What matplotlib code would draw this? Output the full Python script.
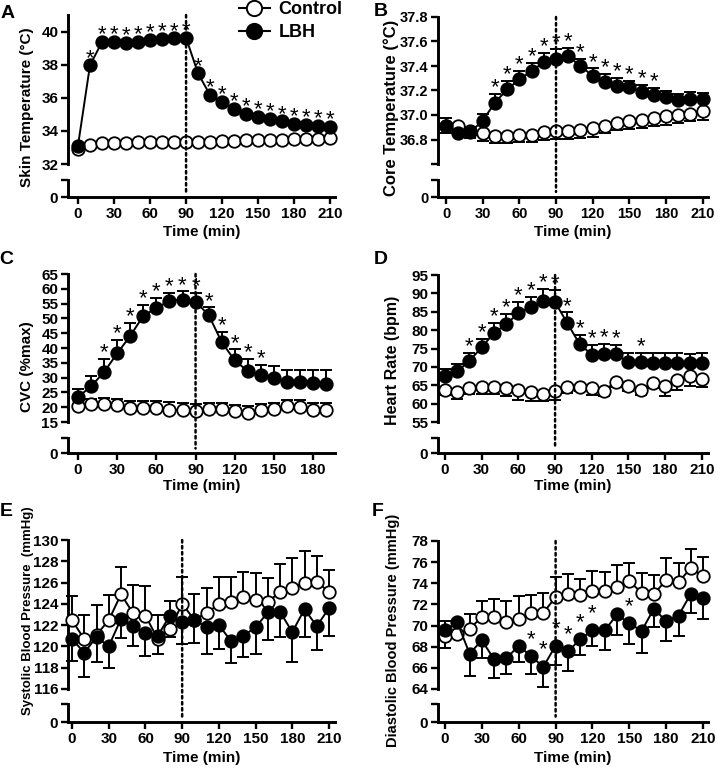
import matplotlib
matplotlib.use('Agg')
import matplotlib.pyplot as plt
from matplotlib.lines import Line2D
from matplotlib.patches import ConnectionPatch

plt.rcParams['font.family'] = ['Liberation Sans', 'DejaVu Sans']
plt.rcParams['font.weight'] = 'bold'

# ---------------- data ----------------
time_210 = list(range(0, 220, 10))
time_190 = list(range(0, 200, 10))

skin_ctrl = [32.9, 33.17, 33.25, 33.28, 33.28, 33.3, 33.3, 33.32, 33.32, 33.32, 33.33,
             33.35, 33.38, 33.4, 33.42, 33.45, 33.45, 33.47, 33.48, 33.5, 33.53, 33.58]
skin_lbh = [33.1, 37.96, 39.37, 39.37, 39.33, 39.37, 39.5, 39.58, 39.6, 39.62, 37.47,
            36.16, 35.76, 35.35, 35.05, 34.85, 34.73, 34.57, 34.44, 34.36, 34.32, 34.26]
skin_stars = list(range(10, 220, 10))

core_ctrl = [36.91, 36.91, 36.87, 36.855, 36.83, 36.83, 36.835, 36.835, 36.86, 36.87, 36.87,
             36.88, 36.895, 36.91, 36.935, 36.95, 36.96, 36.975, 36.99, 37.0, 37.01, 37.03]
core_ctrl_err = [0.06, 0.05, 0.06, 0.068, 0.06, 0.06, 0.057, 0.057, 0.065, 0.068, 0.062,
                 0.068, 0.073, 0.06, 0.06, 0.062, 0.068, 0.068, 0.068, 0.068, 0.062, 0.073]
core_lbh = [36.91, 36.855, 36.86, 36.955, 37.1, 37.21, 37.29, 37.36, 37.43, 37.46, 37.48,
            37.4, 37.32, 37.27, 37.24, 37.23, 37.19, 37.16, 37.145, 37.12, 37.13, 37.13]
core_lbh_err = [0.068, 0.04, 0.04, 0.057, 0.073, 0.068, 0.068, 0.068, 0.073, 0.076, 0.068,
                0.06, 0.06, 0.062, 0.06, 0.05, 0.054, 0.06, 0.05, 0.054, 0.054, 0.05]
core_stars = list(range(40, 180, 10))

cvc_ctrl = [20.3, 21.1, 21.1, 20.7, 19.8, 19.8, 19.8, 19.2, 19.0, 18.6,
            19.4, 19.4, 18.6, 18.1, 19.2, 19.4, 20.3, 20.0, 18.9, 19.2]
cvc_ctrl_err = [2.5, 1.8, 1.9, 2.0, 2.2, 2.2, 2.3, 2.4, 2.4, 2.5,
                2.0, 2.0, 2.2, 2.3, 2.0, 2.0, 2.3, 2.3, 2.5, 2.3]
cvc_lbh = [23.4, 27.1, 31.9, 38.2, 44.1, 50.9, 53.5, 55.95, 56.3, 55.6,
           51.2, 42.0, 35.8, 32.2, 30.8, 29.9, 28.6, 28.5, 28.2, 28.0]
cvc_lbh_err = [2.6, 3.6, 4.5, 4.4, 4.3, 3.6, 3.4, 2.8, 2.8, 2.9,
               2.5, 3.4, 3.7, 4.2, 3.6, 4.0, 3.8, 4.1, 4.3, 4.5]
cvc_stars = list(range(20, 150, 10))

hr_ctrl = [63.8, 63.1, 64.2, 64.4, 64.4, 64.2, 63.8, 63.1, 62.7, 63.3, 64.4,
           64.6, 64.2, 63.5, 66.0, 64.8, 63.8, 65.6, 64.9, 66.5, 67.6, 66.7]
hr_ctrl_err = [1.4, 1.8, 1.6, 1.9, 1.9, 2.2, 2.7, 2.4, 2.1, 2.3, 1.4,
               1.3, 1.8, 1.5, 1.6, 1.4, 1.5, 1.4, 2.7, 2.7, 2.9, 2.3]
hr_lbh = [67.4, 68.8, 71.65, 75.3, 79.2, 81.6, 84.6, 86.4, 87.9, 87.6, 81.9,
          76.25, 73.3, 73.5, 73.5, 71.2, 71.2, 71.1, 71.1, 71.1, 71.1, 71.1]
hr_lbh_err = [2.0, 2.1, 2.1, 2.4, 2.7, 2.7, 3.0, 2.5, 3.2, 3.2, 2.9,
              2.4, 2.7, 2.7, 2.5, 2.5, 2.5, 2.6, 2.6, 2.6, 2.5, 2.6]
hr_stars = list(range(20, 150, 10)) + [160]

sbp_ctrl = [122.46, 120.68, 121.1, 122.46, 124.9, 123.1, 122.9, 120.7, 121.6, 124.0, 122.5,
            123.16, 123.95, 124.2, 124.6, 124.4, 124.2, 125.1, 125.5, 126.0, 126.1, 125.1]
sbp_ctrl_err = [2.3, 2.3, 2.8, 2.4, 2.55, 2.7, 2.8, 2.3, 2.7, 2.5, 2.4,
                2.3, 2.6, 2.3, 2.4, 2.5, 2.2, 2.6, 2.8, 2.95, 2.4, 2.1]
sbp_lbh = [120.7, 119.4, 120.9, 120.0, 122.6, 121.9, 121.25, 121.0, 122.9, 122.3, 122.5,
           121.8, 122.0, 120.5, 121.0, 121.8, 123.2, 123.25, 121.35, 123.5, 121.9, 123.6]
sbp_lbh_err = [2.1, 2.3, 2.4, 2.0, 1.8, 1.9, 2.15, 1.7, 2.0, 2.1, 2.2,
               2.55, 2.2, 2.1, 2.0, 2.5, 2.6, 2.35, 2.85, 2.6, 2.2, 2.6]
sbp_stars = []

dbp_ctrl = [69.0, 69.2, 69.7, 70.8, 70.8, 70.3, 70.65, 71.2, 71.2, 72.7, 73.0,
            72.85, 73.3, 73.3, 73.65, 74.2, 73.1, 73.0, 74.3, 74.1, 75.45, 74.65]
dbp_ctrl_err = [1.45, 0.8, 1.4, 1.5, 1.7, 2.0, 2.1, 1.7, 1.9, 1.9, 1.9,
                1.55, 1.85, 1.75, 2.1, 1.7, 1.9, 1.8, 2.05, 1.8, 1.75, 1.8]
dbp_lbh = [69.6, 70.3, 67.35, 68.6, 66.8, 66.9, 68.1, 67.1, 66.1, 68.1, 67.55,
           68.7, 69.55, 69.55, 71.05, 70.2, 69.5, 71.6, 70.4, 70.95, 73.0, 72.65]
dbp_lbh_err = [1.7, 1.3, 2.15, 1.65, 1.75, 1.5, 1.55, 1.7, 1.9, 1.8, 1.85,
               1.5, 1.45, 1.85, 1.95, 1.9, 2.1, 1.7, 1.85, 1.95, 1.8, 2.0]
dbp_stars = [70, 80, 90, 100, 110, 120, 150]

x_ticks_210 = [0, 30, 60, 90, 120, 150, 180, 210]
x_ticks_180 = [0, 30, 60, 90, 120, 150, 180]

# ---------------- figure ----------------
W, H = 716, 774
fig = plt.figure(figsize=(W / 100, H / 100), dpi=100)

SPW = 2.1
LW = 1.4
MS = 9.0
MEW = 1.3


def box(l, t, r, b):
    return [l / W, 1 - b / H, (r - l) / W, (b - t) / H]


def draw_series(ax, x, y, err, direction, filled):
    if err is not None:
        ends = [yy + e if direction == 'up' else yy - e for yy, e in zip(y, err)]
        ax.vlines(x, y, ends, color='black', lw=LW, zorder=2, clip_on=False)
        ax.plot(x, ends, linestyle='none', marker='_', ms=8.5, mew=LW,
                color='black', zorder=2, clip_on=False)
    ax.plot(x, y, '-', color='black', lw=LW, marker='o', ms=MS,
            mfc='black' if filled else 'white', mec='black', mew=MEW,
            zorder=3, clip_on=False)


def panel(main_px, low_px, xlim, ylim, yticks, ylabels, xticks, x,
          ctrl, ctrl_err, ctrl_dir, lbh, lbh_err, lbh_dir, stars, star_off, tfs=11):
    ax = fig.add_axes(box(*main_px))
    axl = fig.add_axes(box(*low_px))
    for a in (ax, axl):
        a.set_xlim(*xlim)
        a.spines['top'].set_visible(False)
        a.spines['right'].set_visible(False)
        for s in ('left', 'bottom'):
            a.spines[s].set_linewidth(SPW)
        a.tick_params(direction='out', length=5, width=1.7, labelsize=tfs, pad=2)
        a.patch.set_alpha(0)
    ax.spines['bottom'].set_visible(False)
    ax.tick_params(bottom=False, labelbottom=False)
    ax.set_ylim(*ylim)
    ax.set_yticks(yticks)
    ax.set_yticklabels(ylabels)
    axl.set_ylim(0, 1)
    axl.set_yticks([0, 1])
    axl.set_yticklabels(['0', ''])
    axl.set_xticks(xticks)
    axl.set_xticklabels([str(t) for t in xticks])

    draw_series(ax, x, ctrl, ctrl_err, ctrl_dir, False)
    draw_series(ax, x, lbh, lbh_err, lbh_dir, True)

    for s in stars:
        i = x.index(s)
        yv = lbh[i]
        if lbh_err is not None and lbh_dir == 'up':
            yv = lbh[i] + lbh_err[i]
        ax.annotate('*', xy=(s, yv), xytext=(0, star_off), textcoords='offset points',
                    ha='center', va='center', fontsize=16, fontweight='normal',
                    annotation_clip=False, zorder=4)

    con = ConnectionPatch(xyA=(90, ylim[1]), coordsA=ax.transData,
                          xyB=(90, 0.3), coordsB=axl.transData,
                          arrowstyle='-', linestyle=(0, (1, 1.4)), lw=1.8,
                          color='black', shrinkA=0, shrinkB=0, zorder=1)
    fig.add_artist(con)
    return ax, axl


# A
panel((68, 15, 335, 164), (68, 180, 335, 197), (-8.3, 214), (32, 41),
      [32, 34, 36, 38, 40], ['32', '34', '36', '38', '40'], x_ticks_210, time_210,
      skin_ctrl, None, 'down', skin_lbh, None, 'up', skin_stars, 5)
# B
panel((438, 17, 708, 164), (438, 180, 708, 197), (-6.6, 214.4), (36.6, 37.8),
      [36.6, 36.8, 37.0, 37.2, 37.4, 37.6, 37.8],
      ['', '36.8', '37.0', '37.2', '37.4', '37.6', '37.8'], x_ticks_210, time_210,
      core_ctrl, core_ctrl_err, 'down', core_lbh, core_lbh_err, 'up', core_stars, 4.5,
      tfs=10.5)
# C
panel((68, 274, 335, 422), (68, 438, 335, 453), (-7.7, 196.8), (15, 65),
      list(range(15, 70, 5)), [str(v) for v in range(15, 70, 5)], x_ticks_180, time_190,
      cvc_ctrl, cvc_ctrl_err, 'up', cvc_lbh, cvc_lbh_err, 'up', cvc_stars, 4.5)
# D
panel((438, 275, 708, 422), (438, 438, 708, 453), (-5.7, 215), (55, 95),
      list(range(55, 100, 5)), [str(v) for v in range(55, 100, 5)], x_ticks_210, time_210,
      hr_ctrl, hr_ctrl_err, 'down', hr_lbh, hr_lbh_err, 'up', hr_stars, 4.5)
# E
panel((68, 540, 335, 689), (68, 704, 335, 722), (-3.3, 214.9), (116, 130),
      list(range(116, 132, 2)), [str(v) for v in range(116, 132, 2)], x_ticks_210, time_210,
      sbp_ctrl, sbp_ctrl_err, 'up', sbp_lbh, sbp_lbh_err, 'down', sbp_stars, 12)
# F
panel((438, 541, 708, 689), (438, 704, 708, 722), (-5.7, 214), (64, 78),
      list(range(64, 80, 2)), [str(v) for v in range(64, 80, 2)], x_ticks_210, time_210,
      dbp_ctrl, dbp_ctrl_err, 'up', dbp_lbh, dbp_lbh_err, 'down', dbp_stars, 12)

# y labels
ylabels = [
    ('Skin Temperature (\u00b0C)', 27, 107, 11),
    ('Core Temperature (\u00b0C)', 391, 108, 12),
    ('CVC (%max)', 27, 367, 11),
    ('Heart Rate (bpm)', 393, 360, 11.5),
    ('Systolic Blood Pressure  (mmHg)', 28, 611, 9.5),
    ('Diastolic Blood Pressure (mmHg)', 393, 630, 10.5),
]
for txt, xp, yp, fs in ylabels:
    fig.text(xp / W, 1 - yp / H, txt, rotation=90, ha='center', va='center',
             fontsize=fs, fontweight='bold')

# x labels
for xc, yc in [(201.5, 232), (573, 232), (201.5, 486), (573, 486), (201.5, 758), (573, 758)]:
    fig.text(xc / W, 1 - yc / H, 'Time (min)', ha='center', va='center',
             fontsize=11, fontweight='bold')

# panel letters
for letter, xp, yp in [('A', 8, 13), ('B', 381, 12), ('C', 6, 260), ('D', 381, 260),
                       ('E', 6, 512), ('F', 378, 512)]:
    fig.text(xp / W, 1 - yp / H, letter, ha='center', va='center',
             fontsize=14, fontweight='bold')

# legend
h_ctrl = Line2D([], [], color='black', lw=1.5, marker='o', ms=11, mfc='white',
                mec='black', mew=1.4)
h_lbh = Line2D([], [], color='black', lw=1.5, marker='o', ms=11, mfc='black',
               mec='black', mew=1.4)
fig.legend([h_ctrl, h_lbh], ['Control', 'LBH'], loc='upper left',
           bbox_to_anchor=(238 / W, 1 - 0 / H), frameon=False, fontsize=13,
           handlelength=1.7, handletextpad=0.5, labelspacing=0.35, borderpad=0.05,
           borderaxespad=0)

fig.savefig('out.png', dpi=100)
